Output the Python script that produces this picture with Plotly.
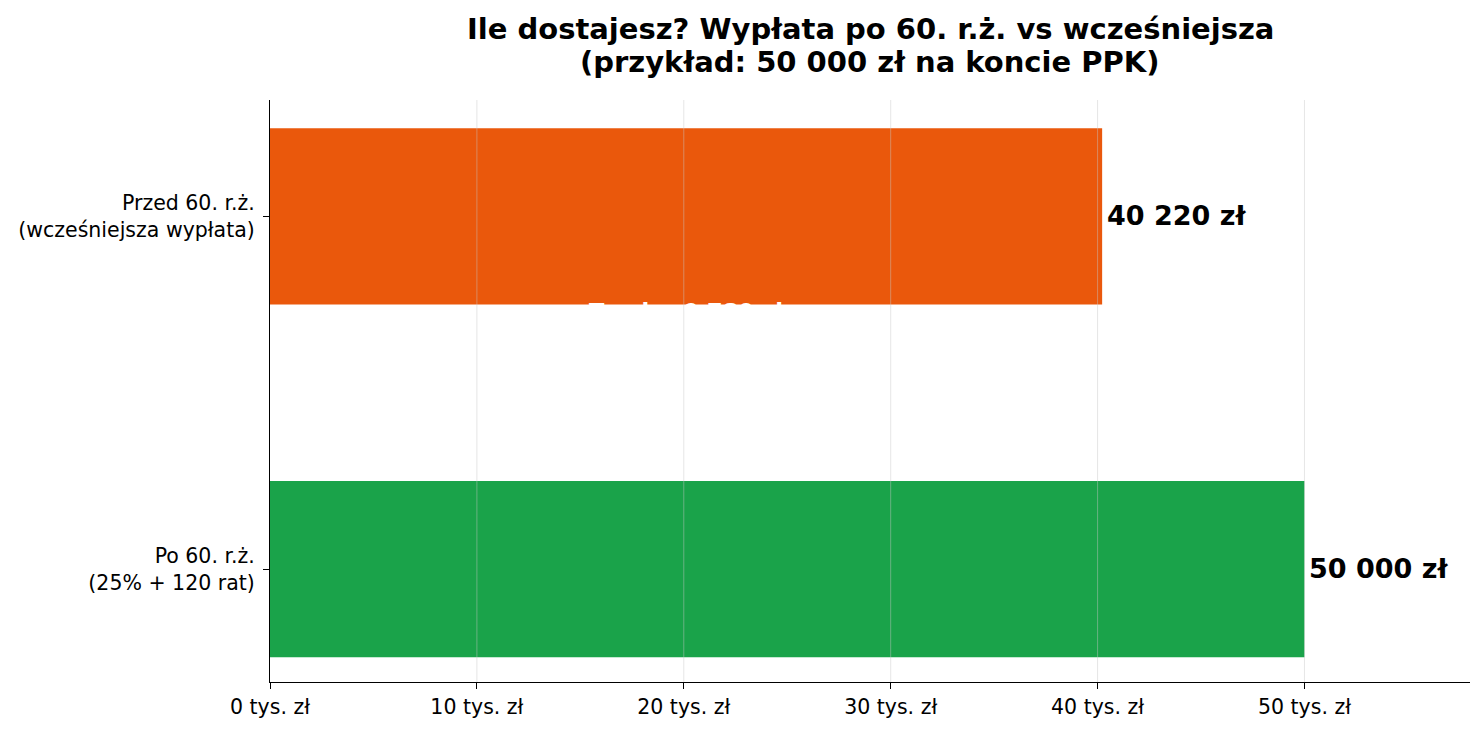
import plotly.graph_objects as go

categories = ["Po 60. r.ż.<br>(25% + 120 rat)", "Przed 60. r.ż.<br>(wcześniejsza wypłata)"]
values = [50000, 40220]
value_labels = ["50 000 zł", "40 220 zł"]
colors = ["#1AA34A", "#EA580C"]
tick_vals = [0, 10000, 20000, 30000, 40000, 50000]
tick_text = ["0 tys. zł", "10 tys. zł", "20 tys. zł", "30 tys. zł", "40 tys. zł", "50 tys. zł"]
loss_text = "Tracisz 9 780 zł"
title_lines = ["Ile dostajesz? Wypłata po 60. r.ż. vs wcześniejsza",
               "(przykład: 50 000 zł na koncie PPK)"]

FONT = "DejaVu Sans"
ypos = list(range(len(categories)))

fig = go.Figure()
fig.add_trace(go.Bar(
    x=values, y=ypos, orientation="h", width=0.5,
    marker=dict(color=colors, line=dict(width=0)),
    hoverinfo="skip",
))

# vertical grid lines drawn above the bars
for tv in tick_vals[1:]:
    fig.add_shape(type="line", x0=tv, x1=tv, xref="x", y0=0, y1=1, yref="paper",
                  line=dict(color="rgba(200,200,200,0.45)", width=1), layer="above")

for v, y, lab in zip(values, ypos, value_labels):
    fig.add_annotation(x=v, y=y, text=f"<b>{lab}</b>", showarrow=False,
                       xanchor="left", yanchor="middle", xshift=3, yshift=1,
                       font=dict(family=FONT, size=27, color="black"))

fig.add_annotation(x=values[1] / 2, y=ypos[1] - 0.25 + 0.022, text=f"<b>{loss_text}</b>",
                   showarrow=False, xanchor="center", yanchor="top",
                   font=dict(family=FONT, size=22.5, color="white"))

# two-line title
for line, yp in zip(title_lines, [1.122, 1.065]):
    fig.add_annotation(x=0.5, xref="paper", y=yp, yref="paper", text=f"<b>{line}</b>",
                       showarrow=False, xanchor="center", yanchor="middle",
                       font=dict(family=FONT, size=29, color="black"))

fig.update_layout(
    width=1484, height=732,
    margin=dict(l=270, r=14, t=100, b=50),
    paper_bgcolor="white", plot_bgcolor="white",
    showlegend=False,
    font=dict(family=FONT, size=20, color="black"),
)
fig.update_xaxes(range=[0, 58000], tickvals=tick_vals, ticktext=tick_text,
                 showgrid=False, automargin=False,
                 showline=True, linecolor="black", linewidth=1.2,
                 ticks="outside", ticklen=6, tickcolor="black",
                 zeroline=False, ticklabelstandoff=0,
                 tickfont=dict(family=FONT, size=20.5, color="black"))
fig.update_yaxes(range=[-0.32, 1.33], tickvals=ypos, ticktext=categories,
                 showgrid=False, showline=True, linecolor="black", linewidth=1.2,
                 ticks="outside", ticklen=6, tickcolor="black", zeroline=False,
                 ticklabelstandoff=4, automargin=False,
                 tickfont=dict(family=FONT, size=20.5, color="black"))

fig.write_html("out.html")
